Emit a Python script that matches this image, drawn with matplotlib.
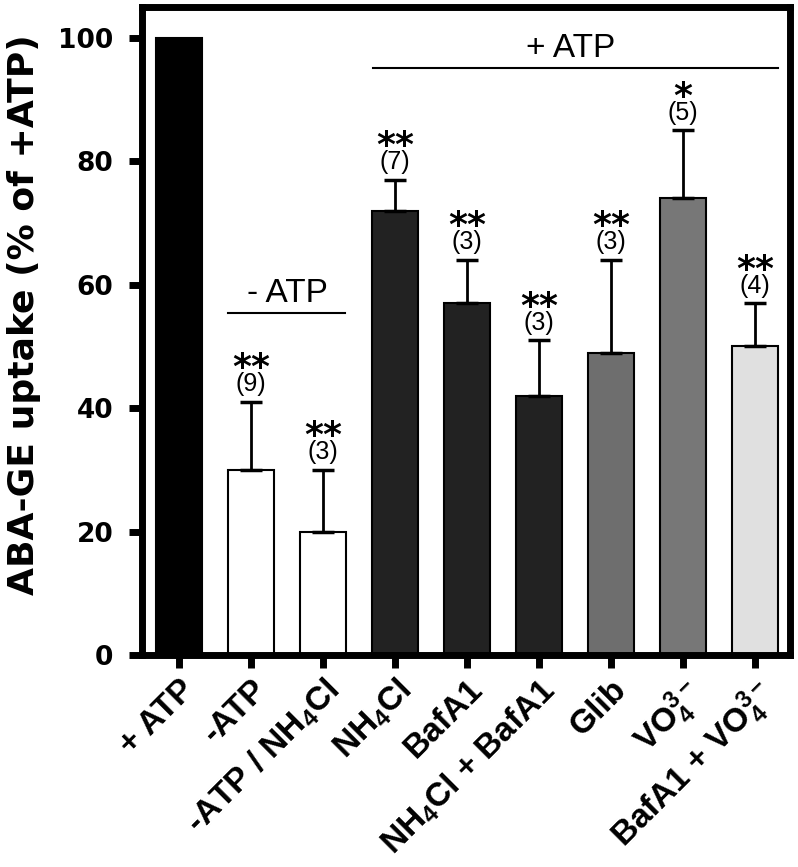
import matplotlib
matplotlib.use("Agg")
import matplotlib.pyplot as plt
import matplotlib.transforms as mtransforms
import numpy as np

plt.rcParams['mathtext.fontset'] = 'custom'
plt.rcParams['mathtext.rm'] = 'Liberation Sans'
plt.rcParams['mathtext.bf'] = 'Liberation Sans:bold'
plt.rcParams['mathtext.default'] = 'bf'

labels = ['+ ATP', '-ATP', '-ATP / NH$_4$Cl', 'NH$_4$Cl', 'BafA1',
          'NH$_4$Cl + BafA1', 'Glib', 'VO$_4^{3-}$', 'BafA1 + VO$_4^{3-}$']
values = [100, 30, 20, 72, 57, 42, 49, 74, 50]
errors = [0, 11, 10, 5, 7, 9, 15, 11, 7]
stars = ['', '**', '**', '**', '**', '**', '**', '*', '**']
ns = ['', '(9)', '(3)', '(7)', '(3)', '(3)', '(3)', '(5)', '(4)']
colors = ['#000000', '#ffffff', '#ffffff', '#222222', '#222222', '#222222',
          '#6e6e6e', '#777777', '#e0e0e0']
yticks = [0, 20, 40, 60, 80, 100]

fig = plt.figure(figsize=(7.98, 8.67), dpi=100)
ax = fig.add_axes([0.178, 0.2445, 0.812, 0.7475])

x = np.arange(len(values))
ax.bar(x, values, width=0.64, color=colors, edgecolor='black', linewidth=1.5, zorder=2)
for xi, v, e in zip(x, values, errors):
    if e > 0:
        ax.errorbar(xi, v, yerr=[[0], [e]], fmt='none', ecolor='black',
                    elinewidth=2, capsize=8, capthick=2.5, zorder=3)

for xi, v, e, s, n in zip(x, values, errors, stars, ns):
    if n:
        top = v + e
        ax.annotate(n, (xi, top), xytext=(0, 4), textcoords='offset points',
                    ha='center', va='bottom', fontsize=18,
                    family='Liberation Sans')
        ax.annotate(s, (xi, top), xytext=(0, 12), textcoords='offset points',
                    ha='center', va='bottom', fontsize=26,
                    family='DejaVu Sans', fontweight='bold')

# group lines
ax.plot([0.68, 2.31], [55.4, 55.4], color='black', lw=1.5)
ax.text(1.5, 57.2, '- ATP', ha='center', va='baseline', fontsize=24, family='Liberation Sans')
ax.plot([2.70, 8.32], [95.1, 95.1], color='black', lw=1.5)
ax.text(5.44, 96.9, '+ ATP', ha='center', va='baseline', fontsize=24, family='Liberation Sans')

ax.set_xlim(-0.515, 8.49)
ax.set_ylim(0, 105)
ax.set_yticks(yticks)
ax.set_yticklabels([str(t) for t in yticks], fontsize=19, fontweight='bold',
                   family='DejaVu Sans')
ax.set_xticks(x)
ax.set_xticklabels(labels, rotation=45, ha='right', rotation_mode='anchor',
                   fontsize=24, fontweight='bold', family='Liberation Sans')
offset = mtransforms.ScaledTranslation(-6 / 100, -3 / 100, fig.dpi_scale_trans)
for lab in ax.get_xticklabels():
    lab.set_transform(lab.get_transform() + offset)
ax.set_ylabel('ABA-GE uptake (% of +ATP)', fontsize=26, fontweight='bold',
              family='DejaVu Sans')
ax.yaxis.set_label_coords(-0.156, 0.525)

for sp in ax.spines.values():
    sp.set_linewidth(5)
ax.tick_params(axis='both', length=9.5, width=5, direction='out')
ax.tick_params(axis='y', pad=11)
ax.tick_params(axis='x', pad=4)

fig.savefig('out.png', dpi=100)
